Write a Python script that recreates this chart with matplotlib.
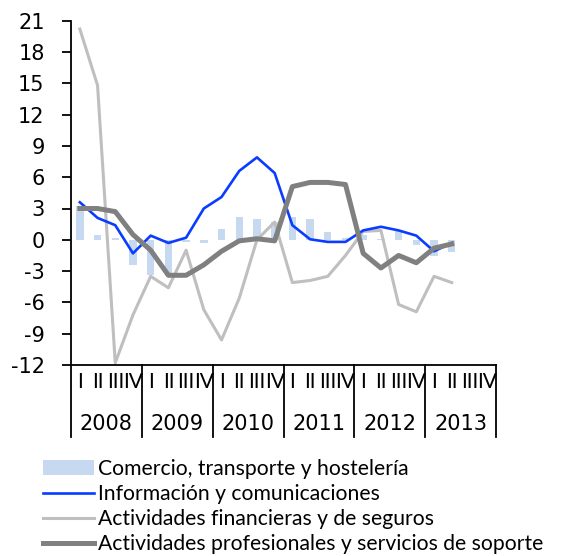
import matplotlib
matplotlib.use("Agg")
import matplotlib.pyplot as plt
import matplotlib.transforms as mtransforms

plt.rcParams['font.family'] = ['Lato', 'DejaVu Sans']
plt.rcParams['axes.unicode_minus'] = False

years = [2008, 2009, 2010, 2011, 2012, 2013]
quarters = ["I", "II", "III", "IV"]

# tasas trimestrales, 2008T1 .. 2013T2
comercio = [3.2, 0.5, 0.2, -2.4, -3.4, -3.5, -0.2, -0.3, 1.0, 2.2, 2.0, 1.7,
            2.2, 2.0, 0.7, 0.2, 0.45, 0.1, 0.8, -0.5, -1.6, -1.2]
informacion = [3.6, 2.1, 1.4, -1.3, 0.4, -0.3, 0.2, 3.0, 4.1, 6.6, 7.9, 6.4,
               1.4, 0.05, -0.2, -0.2, 0.9, 1.25, 0.9, 0.4, -1.1, -0.3]
financieras = [20.2, 14.8, -11.8, -7.2, -3.5, -4.6, -1.0, -6.7, -9.6, -5.6, 0.0, 1.7,
               -4.1, -3.9, -3.5, -1.5, 0.8, 0.9, -6.2, -6.9, -3.5, -4.1]
profesionales = [3.0, 3.0, 2.7, 0.5, -1.0, -3.4, -3.4, -2.4, -1.1, -0.1, 0.1, -0.1,
                 5.1, 5.5, 5.5, 5.3, -1.3, -2.7, -1.5, -2.2, -0.8, -0.4]

labels = ["Comercio, transporte y hostelería",
          "Información y comunicaciones",
          "Actividades financieras y de seguros",
          "Actividades profesionales y servicios de soporte"]

fig = plt.figure(figsize=(5.62, 5.56), dpi=100)
ax = fig.add_axes([0.1263, 0.3435, 0.8826 - 0.1263, 0.9628 - 0.3435])

x = list(range(len(comercio)))
ax.bar(x, comercio, width=0.42, color="#c6d9f1", label=labels[0], zorder=1)
ax.plot(x, financieras, color="#bfbfbf", lw=2.2, label=labels[2], zorder=2)
ax.plot(x, informacion, color="#0a3cff", lw=1.9, label=labels[1], zorder=3)
ax.plot(x, profesionales, color="#808080", lw=3.6, label=labels[3], zorder=4)

nq = len(years) * len(quarters)
ax.set_xlim(-0.5, nq - 0.5)
ax.set_ylim(-12, 21)
ax.set_yticks(range(-12, 22, 3))
ax.set_xticks([])
for s in ["top", "right"]:
    ax.spines[s].set_visible(False)
ax.spines["left"].set_linewidth(1.3)
ax.spines["bottom"].set_linewidth(1.3)
ax.tick_params(axis="y", direction="out", length=6.5, width=1.3, pad=12.5)
for t in ax.get_yticklabels():
    t.set_fontfamily("DejaVu Sans")
    t.set_fontsize(15)

# etiquetas de trimestres y años bajo el eje
trans = mtransforms.blended_transform_factory(ax.transData, ax.transAxes)
for yi, yr in enumerate(years):
    for qi, q in enumerate(quarters):
        ax.text(yi * 4 + qi, -0.049, q, transform=trans, ha="center", va="center",
                fontsize=15)
    ax.text(yi * 4 + 1.5, -0.171, str(yr), transform=trans, ha="center", va="center",
            fontsize=15, family="DejaVu Sans")
for b in range(len(years) + 1):
    ax.plot([b * 4 - 0.5, b * 4 - 0.5], [0, -0.209], transform=trans, color="black",
            lw=1.3, clip_on=False)

handles, labs = ax.get_legend_handles_labels()
hmap = dict(zip(labs, handles))
fig.legend([hmap[l] for l in labels], labels, loc="upper left",
           bbox_to_anchor=(0.0765, 0.1745), frameon=False, fontsize=15.2,
           handlelength=2.4, handletextpad=0.19, labelspacing=0.24,
           borderpad=0, borderaxespad=0)

fig.savefig("out.png", dpi=100)
